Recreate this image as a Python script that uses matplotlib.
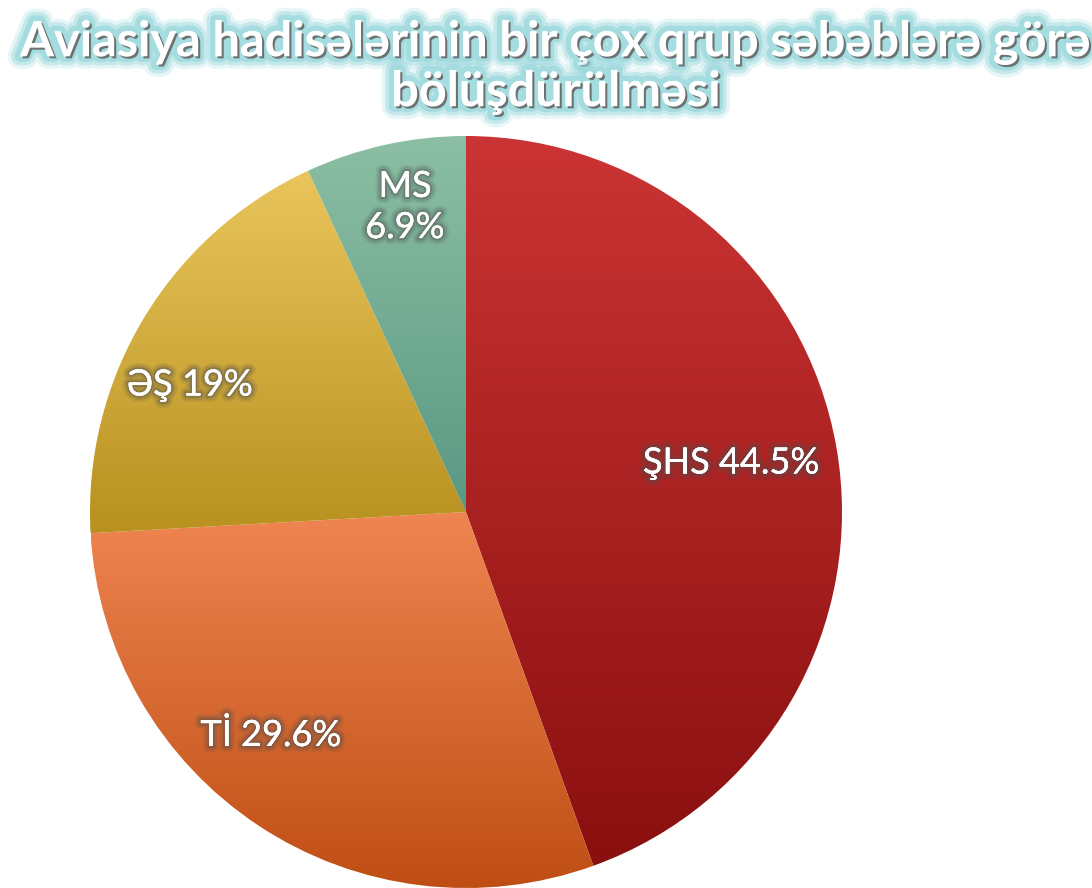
import numpy as np
import matplotlib
matplotlib.use("Agg")
import matplotlib.pyplot as plt
import matplotlib.patheffects as pe
from matplotlib.colors import LinearSegmentedColormap

# Data
categories = ["ŞHS", "Tİ", "ƏŞ", "MS"]
values = [44.5, 29.6, 19.0, 6.9]
labels = ["ŞHS 44.5%", "Tİ 29.6%", "ƏŞ 19%", "MS\n6.9%"]
title = "Aviasiya hadisələrinin bir çox qrup səbəblərə görə\nbölüşdürülməsi"

# Styles
grad_top = ["#cb3434", "#ef8552", "#e9c55c", "#8cbfa4"]
grad_bot = ["#8a0f0f", "#bf4e14", "#b8911f", "#5a9883"]
label_pos = [(731, 463), (271, 735), (190, 385), (405, 207)]

W, H = 1092, 888
fig = plt.figure(figsize=(W / 100, H / 100), dpi=100)
ax = fig.add_axes([0, 0, 1, 1])
cx, cy, r = 466, 376, 376

wedges, _ = ax.pie(values, startangle=90, counterclock=False,
                   center=(cx, cy), radius=r, colors=["none"] * 4,
                   wedgeprops=dict(linewidth=0))
ax.set_xlim(0, W)
ax.set_ylim(0, H)
ax.set_aspect("auto")
ax.axis("off")

grad = np.linspace(0, 1, 256).reshape(-1, 1)
for w, c0, c1 in zip(wedges, grad_top, grad_bot):
    ext = w.get_path().get_extents(w.get_patch_transform())
    cmap = LinearSegmentedColormap.from_list("g", [c1, c0])
    im = ax.imshow(grad, cmap=cmap, aspect="auto", origin="lower",
                   extent=(ext.x0, ext.x1, ext.y0, ext.y1), zorder=1)
    im.set_clip_path(w)
ax.set_xlim(0, W)
ax.set_ylim(0, H)

label_fx = [pe.withStroke(linewidth=9, foreground=(0.3, 0.3, 0.3, 0.12)),
            pe.withStroke(linewidth=6, foreground=(0.3, 0.3, 0.3, 0.18)),
            pe.withStroke(linewidth=3, foreground=(0.3, 0.3, 0.3, 0.3)),
            pe.Normal()]
for (px, py), lab in zip(label_pos, labels):
    ax.text(px, H - py, lab, ha="center", va="center", color="white",
            fontsize=26, family=["Lato", "DejaVu Sans"],
            linespacing=1.3, zorder=5, path_effects=label_fx)

glow = (0.62, 0.85, 0.87)
title_fx = [pe.withStroke(linewidth=18, foreground=glow + (0.25,)),
            pe.withStroke(linewidth=13, foreground=glow + (0.45,)),
            pe.withStroke(linewidth=8, foreground=glow + (0.8,)),
            pe.withSimplePatchShadow(offset=(1.5, -1.5), shadow_rgbFace="#666666", alpha=0.9)]
fig.text(556 / W, 1 - 67 / H, title, ha="center", va="center", color="white",
         fontsize=35, fontweight="bold", family=["Lato", "DejaVu Sans"],
         linespacing=1.12, path_effects=title_fx)

fig.savefig("out.png", dpi=100)
